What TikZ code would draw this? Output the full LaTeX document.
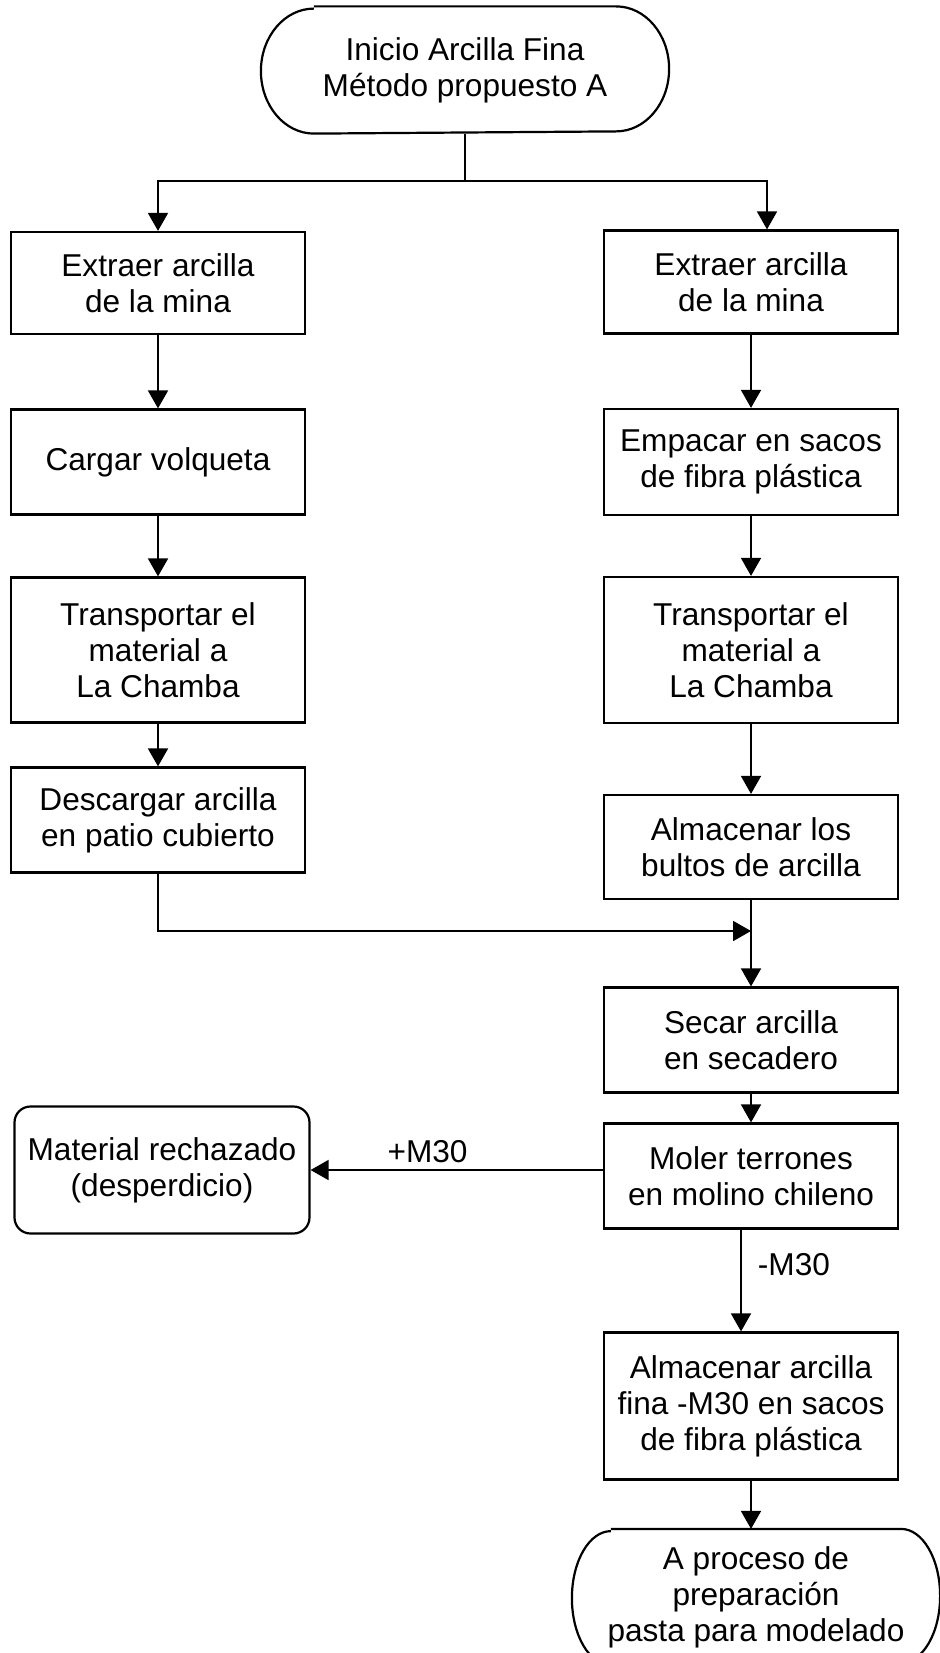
\documentclass[tikz,border=0pt]{standalone}
\usepackage{fontspec}
\setmainfont{Liberation Sans}
\usetikzlibrary{arrows.meta}

\tikzset{
  proceso/.style={draw, line width=1.1pt, align=center, minimum width=147pt,
    inner sep=2pt, font=\fontsize{15.8}{18}\selectfont},
  terminal/.style={proceso, draw=none},
  desecho/.style={proceso, rounded corners=8pt},
  borde/.style={line width=1.1pt},
  flecha/.style={line width=0.9pt, -{Triangle[length=9pt,width=10pt]}},
  etiqueta/.style={font=\fontsize{15.8}{18}\selectfont, inner sep=3pt}
}

\begin{document}
\begin{tikzpicture}[x=0.5pt,y=-0.5pt]
\useasboundingbox (0,0) rectangle (940,1653);

% inicio
\node[terminal, minimum width=203pt, minimum height=62.5pt] (inicio) at (465,70) {Inicio Arcilla Fina\\Método propuesto A};
\draw[borde] ([xshift=26.5pt]inicio.north west) -- ([xshift=-26.5pt]inicio.north east)
  arc[start angle=90, end angle=-90, x radius=26.5pt, y radius=31.25pt]
  -- ([xshift=26.5pt]inicio.south west)
  arc[start angle=270, end angle=90, x radius=26.5pt, y radius=31.25pt];

% columna izquierda
\node[proceso, minimum height=51pt] (ext1) at (158,283) {Extraer arcilla\\de la mina};
\node[proceso, minimum height=52.5pt] (carg) at (158,462) {Cargar volqueta};
\node[proceso, minimum height=72.5pt] (trans1) at (158,650) {Transportar el\\material a\\La Chamba};
\node[proceso, minimum height=52.5pt] (desc) at (158,820) {Descargar arcilla\\en patio cubierto};

% columna derecha
\node[proceso, minimum height=51.5pt] (ext2) at (751,282) {Extraer arcilla\\de la mina};
\node[proceso, minimum height=53pt] (emp) at (751,462) {Empacar en sacos\\de fibra plástica};
\node[proceso, minimum height=73pt] (trans2) at (751,650) {Transportar el\\material a\\La Chamba};
\node[proceso, minimum height=52pt] (alm1) at (751,847) {Almacenar los\\bultos de arcilla};
\node[proceso, minimum height=52.5pt] (sec) at (751,1040) {Secar arcilla\\en secadero};
\node[proceso, minimum height=52.5pt] (mol) at (751,1176) {Moler terrones\\en molino chileno};
\node[proceso, minimum height=73.5pt] (alm2) at (751,1406) {Almacenar arcilla\\fina -M30 en sacos\\de fibra plástica};

\node[desecho, minimum width=147.5pt, minimum height=63.5pt] (rech) at (162,1170) {Material rechazado\\(desperdicio)};

% fin
\node[terminal, minimum width=183pt, minimum height=67pt] (fin) at (756,1597) {A proceso de\\preparación\\pasta para modelado};
\draw[borde] ([xshift=19.5pt]fin.north west) -- ([xshift=-19.5pt]fin.north east)
  arc[start angle=90, end angle=-90, x radius=19.5pt, y radius=33.5pt]
  -- ([xshift=19.5pt]fin.south west)
  arc[start angle=270, end angle=90, x radius=19.5pt, y radius=33.5pt];

% conectores
\coordinate (bif) at (465,181);
\coordinate (union) at (751,931);
\draw[line width=0.9pt] (inicio.south) -- (bif);
\draw[flecha] (bif) -| (ext1.north);
\draw[flecha] (bif) -| ([xshift=8pt]ext2.north);
\draw[flecha] (ext1) -- (carg);
\draw[flecha] (carg) -- (trans1);
\draw[flecha] (trans1) -- (desc);
\draw[flecha] (ext2) -- (emp);
\draw[flecha] (emp) -- (trans2);
\draw[flecha] (trans2) -- (alm1);
\draw[flecha] (desc.south) |- (union);
\draw[flecha] (alm1) -- (sec);
\draw[flecha] (sec) -- (mol);
\draw[flecha] (mol.west |- rech.east) -- node[etiqueta, above, pos=0.6] {+M30} (rech.east);
\draw[flecha] ([xshift=-5pt]mol.south) -- node[etiqueta, right=5pt, pos=0.34] {-M30} ([xshift=-5pt]alm2.north);
\draw[flecha] (alm2.south) -- (alm2.south |- fin.north);
\end{tikzpicture}
\end{document}
